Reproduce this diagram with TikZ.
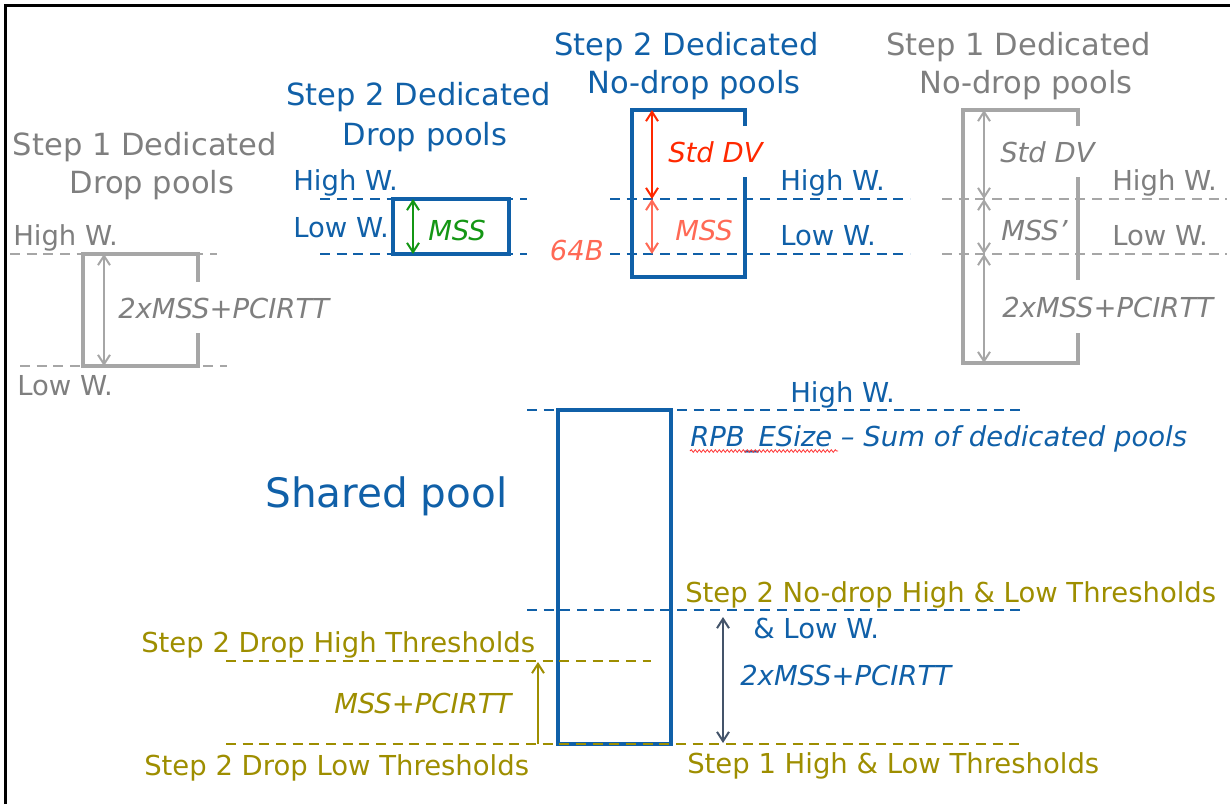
\documentclass[tikz,border=0pt]{standalone}
\usepackage{fontspec}
\setmainfont{DejaVu Sans}
\usetikzlibrary{arrows.meta,decorations.pathmorphing}
\definecolor{cgray}{RGB}{127,127,127}
\definecolor{lgray}{RGB}{166,166,166}
\definecolor{cblue}{RGB}{16,96,168}
\definecolor{colive}{RGB}{158,142,0}
\definecolor{cred}{RGB}{255,40,0}
\definecolor{cpink}{RGB}{255,105,85}
\definecolor{cgreen}{RGB}{20,150,20}
\definecolor{cslate}{RGB}{68,84,106}
\begin{document}
\begin{tikzpicture}[x=0.75pt,y=-0.75pt,
  lbl/.style={font=\fontsize{20.6}{24}\selectfont, inner sep=0pt, anchor=base west},
  ilbl/.style={lbl, font=\fontsize{20.6}{24}\selectfont\itshape},
  head/.style={font=\fontsize{22.9}{27}\selectfont, inner sep=0pt, anchor=base},
  dline/.style={line width=1.9pt, dash pattern=on 7.5pt off 5pt},
  pbox/.style={line width=3pt, draw=cblue},
  gbox/.style={line width=2.6pt, draw=lgray},
  tip/.tip={Straight Barb[length=7pt,width=9pt]},
  dim/.style={line width=1.5pt, tip-tip},
  updim/.style={line width=1.5pt, -tip},
]
\useasboundingbox (0,0) rectangle (1230,804);
% frame
\draw[line width=2.25pt] (5,804) -- (5,5) -- (1230,5);

% ---------- Step 1 dedicated drop pools ----------
\node[head, text=cgray] (h1a) at (145,155) {Step 1 Dedicated};
\node[head, text=cgray] (h1b) at (152,193) {Drop pools};
\node[lbl, text=cgray] (l1hw) at (13,245) {High W.};
\node[lbl, text=cgray] (l1lw) at (17,395) {Low W.};
\draw[dline, lgray] (10,254) -- (217,254);
\draw[dline, lgray] (20,366) -- (227,366);
\draw[gbox] (198,282) -- (198,254) -- (83,254) -- (83,366) -- (198,366) -- (198,333);
\coordinate (d1t) at (104,254);
\coordinate (d1b) at (104,366);
\draw[dim, lgray] (d1t) -- (d1b);
\node[ilbl, text=cgray] (m1) at (118,318) {2xMSS+PCIRTT};

% ---------- Step 2 dedicated drop pools ----------
\node[head, text=cblue] (h2a) at (418.5,105) {Step 2 Dedicated};
\node[head, text=cblue] (h2b) at (425,145) {Drop pools};
\node[lbl, text=cblue] (l2hw) at (293,190) {High W.};
\node[lbl, text=cblue] (l2lw) at (293,237) {Low W.};
\draw[dline, cblue] (320,199) -- (527,199);
\draw[dline, cblue] (320,254) -- (527,254);
\draw[pbox] (393,199) rectangle (509,254);
\coordinate (d2t) at (413,199);
\coordinate (d2b) at (413,254);
\draw[dim, cgreen] (d2t) -- (d2b);
\node[ilbl, text=cgreen] (m2) at (428,240) {MSS};

% ---------- Step 2 dedicated no-drop pools ----------
\node[head, text=cblue] (h3a) at (686.5,55) {Step 2 Dedicated};
\node[head, text=cblue] (h3b) at (694,93) {No-drop pools};
\draw[dline, cblue] (610,199) -- (910,199);
\draw[dline, cblue] (610,254) -- (910,254);
\draw[pbox] (745,126) -- (745,110) -- (632,110) -- (632,277) -- (745,277) -- (745,177);
\coordinate (d3t) at (652,110);
\coordinate (d3m) at (652,199);
\coordinate (d3b) at (652,254);
\draw[dim, cred] (d3t) -- (d3m);
\draw[dim, cpink] (d3m) -- (d3b);
\node[ilbl, text=cred] (m3a) at (668,162) {Std DV};
\node[ilbl, text=cpink] (m3b) at (675,240) {MSS};
\node[ilbl, text=cpink, anchor=base east] (m3c) at (604,260) {64B};
\node[lbl, text=cblue] (l3hw) at (780,190) {High W.};
\node[lbl, text=cblue] (l3lw) at (780,245) {Low W.};

% ---------- Step 1 dedicated no-drop pools ----------
\node[head, text=cgray] (h4a) at (1018.5,55) {Step 1 Dedicated};
\node[head, text=cgray] (h4b) at (1026,93) {No-drop pools};
\draw[dline, lgray] (942,199) -- (1227,199);
\draw[dline, lgray] (942,254) -- (1227,254);
\draw[gbox] (1078,126) -- (1078,110) -- (963,110) -- (963,363) -- (1078,363) -- (1078,333);
\draw[gbox] (1078,177) -- (1078,280);
\coordinate (d4a) at (984,110);
\coordinate (d4b) at (984,199);
\coordinate (d4c) at (984,254);
\coordinate (d4d) at (984,363);
\draw[dim, lgray] (d4a) -- (d4b);
\draw[dim, lgray] (d4b) -- (d4c);
\draw[dim, lgray] (d4c) -- (d4d);
\node[ilbl, text=cgray] (m4a) at (1000,162) {Std DV};
\node[ilbl, text=cgray] (m4b) at (1001,240) {MSS’};
\node[ilbl, text=cgray] (m4c) at (1002,317) {2xMSS+PCIRTT};
\node[lbl, text=cgray] (l4hw) at (1112,190) {High W.};
\node[lbl, text=cgray] (l4lw) at (1112,245) {Low W.};

% ---------- Shared pool ----------
\draw[dline, cblue] (527,410) -- (1024,410);
\draw[dline, cblue] (527,610) -- (1024,610);
\draw[pbox] (558,410) rectangle (671,744);
\node[font=\fontsize{30.4}{36}\selectfont, inner sep=0pt, anchor=base west, text=cblue] (sp) at (265,507) {Shared pool};
\node[lbl, text=cblue] (shw) at (790,402) {High W.};
\node[ilbl, text=cblue] (rpb) at (690,446) {RPB\_ESize – Sum of dedicated pools};
\draw[red!80, line width=0.6pt, decorate, decoration={snake, amplitude=1pt, segment length=3pt}] (690,451) -- (838,451);
\node[lbl, text=colive] (t2nd) at (685,602) {Step 2 No-drop High \& Low Thresholds};
\node[lbl, text=cblue] (slw) at (753,638) {\& Low W.};
\coordinate (d5t) at (723,617);
\coordinate (d5b) at (723,743);
\draw[dim, cslate] (d5t) -- (d5b);
\node[ilbl, text=cblue] (m5) at (740,685) {2xMSS+PCIRTT};

\draw[dline, colive] (226,661) -- (651,661);
\draw[dline, colive] (226,744) -- (1020,744);
\coordinate (d6b) at (538,744);
\coordinate (d6t) at (538,662);
\draw[updim, colive] (d6b) -- (d6t);
\node[lbl, text=colive] (t2dh) at (141,652) {Step 2 Drop High Thresholds};
\node[ilbl, text=colive] (m6) at (334,713) {MSS+PCIRTT};
\node[lbl, text=colive] (t2dl) at (144,775) {Step 2 Drop Low Thresholds};
\node[lbl, text=colive] (t1hl) at (687,773) {Step 1 High \& Low Thresholds};
\end{tikzpicture}
\end{document}
